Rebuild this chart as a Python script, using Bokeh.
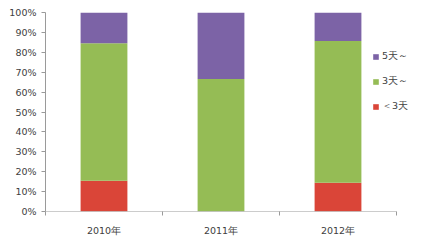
from bokeh.plotting import figure
from bokeh.models import ColumnDataSource, Range1d, FixedTicker, NumeralTickFormatter, Legend, LegendItem
from bokeh.embed import file_html
from bokeh.resources import INLINE

years = ["2010年", "2011年", "2012年"]
lt3 = [0.155, 0.0, 0.145]
d3 = [0.691, 0.666, 0.712]
d5 = [0.154, 0.334, 0.143]
series = ["lt3", "d3", "d5"]
labels = {"lt3": "＜3天", "d3": "3天～", "d5": "5天～"}
colors = ["#DA4538", "#95BC55", "#7C63A6"]
y_ticks = [i / 10 for i in range(11)]

n = len(years)
xpos = [i + 0.5 for i in range(n)]
src = ColumnDataSource(dict(x=xpos, lt3=lt3, d3=d3, d5=d5))

p = figure(width=421, height=243, output_backend="svg", toolbar_location=None,
           x_range=Range1d(0, n * 376 / 351), y_range=Range1d(0, 1),
           min_border_left=45, min_border_right=0, min_border_top=12, min_border_bottom=32)
p.outline_line_color = None
p.grid.visible = False

rs = p.vbar_stack(series, x="x", width=0.4, source=src, color=colors, line_color=None)

font = "DejaVu Sans"
axis_col = "#9a9a9a"
p.yaxis.ticker = FixedTicker(ticks=y_ticks)
p.yaxis.formatter = NumeralTickFormatter(format="0%")
p.yaxis.minor_tick_line_color = None
p.yaxis.major_tick_out = 4
p.yaxis.major_tick_in = 0
p.yaxis.axis_line_color = axis_col
p.yaxis.major_tick_line_color = axis_col
p.yaxis.major_label_standoff = 5

p.xaxis.ticker = FixedTicker(ticks=xpos, minor_ticks=list(range(n + 1)))
p.xaxis.major_label_overrides = {x: y for x, y in zip(xpos, years)}
p.xaxis.axis_line_color = None
p.xaxis.major_tick_line_color = None
p.xaxis.minor_tick_line_color = axis_col
p.xaxis.minor_tick_out = 4
p.xaxis.minor_tick_in = 0
p.xaxis.major_label_standoff = 7
p.segment(x0=[0], y0=[0], x1=[n], y1=[0], line_color=axis_col, line_width=1)

for ax in (p.xaxis[0], p.yaxis[0]):
    ax.major_label_text_font = font
    ax.major_label_text_font_size = "9.5px"
    ax.major_label_text_color = "#404040"

items = [LegendItem(label=labels[s], renderers=[r]) for s, r in zip(series, rs)][::-1]
leg = Legend(items=items, location=(327, 98), padding=0, margin=0, spacing=12,
             glyph_width=7, glyph_height=7, label_height=12, label_standoff=3,
             label_text_font=font, label_text_font_size="9.5px", label_text_color="#404040",
             background_fill_alpha=0, border_line_color=None)
p.add_layout(leg)

open("out.html", "w").write(file_html(p, INLINE))
